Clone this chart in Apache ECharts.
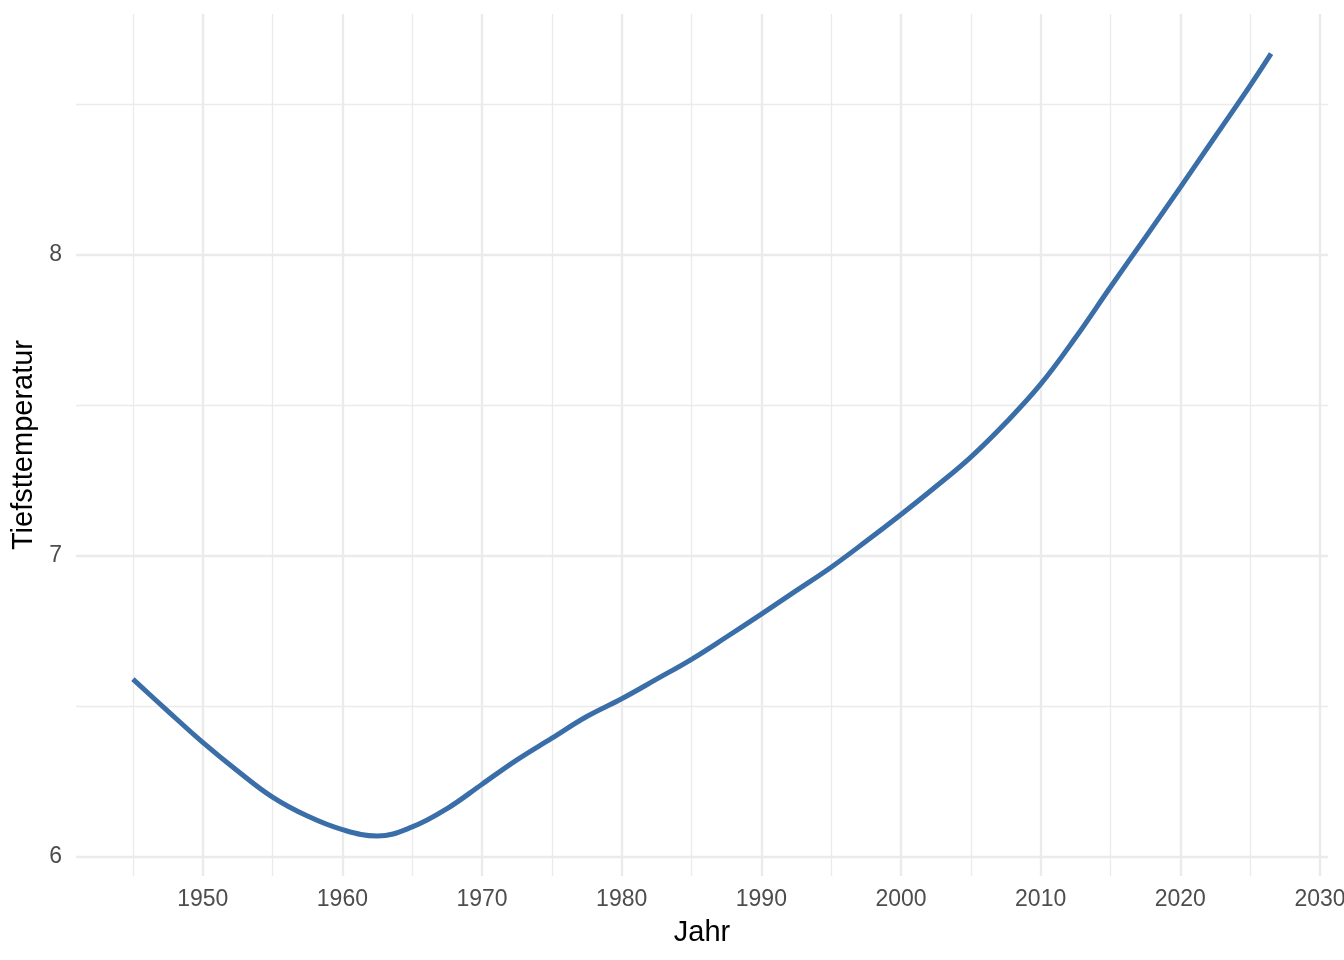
<!DOCTYPE html>
<html>
<head>
<meta charset="utf-8">
<title>Tiefsttemperatur</title>
<script src="https://cdn.jsdelivr.net/npm/echarts@6/dist/echarts.min.js"></script>
<style>
  html, body { margin: 0; padding: 0; background: #fff; }
  #chart { width: 1344px; height: 960px; }
</style>
</head>
<body>
<div id="chart"></div>
<script>
// Werte (geglättete Kurve, alle 2,5 Jahre)
var years = [1945, 1947.5, 1950, 1952.5, 1955, 1957.5, 1960, 1962.5, 1965, 1967.5, 1970, 1972.5, 1975, 1977.5,
             1980, 1982.5, 1985, 1987.5, 1990, 1992.5, 1995, 1997.5, 2000, 2002.5, 2005, 2007.5, 2010, 2012.5,
             2015, 2017.5, 2020, 2022.5, 2025, 2026.5];
var temps = [6.59, 6.484, 6.38, 6.285, 6.198, 6.135, 6.09, 6.069, 6.099, 6.16, 6.241, 6.322, 6.394, 6.466,
             6.525, 6.59, 6.656, 6.73, 6.806, 6.884, 6.962, 7.048, 7.137, 7.23, 7.328, 7.442, 7.570, 7.725,
             7.893, 8.058, 8.224, 8.393, 8.562, 8.668];

var xMajor = [1950, 1960, 1970, 1980, 1990, 2000, 2010, 2020, 2030];
var xMinor = [1945, 1955, 1965, 1975, 1985, 1995, 2005, 2015, 2025];
var yMajor = [6, 7, 8];
var yMinor = [6.5, 7.5, 8.5];

var xMin = 1940.925, xMax = 2030.575;
var yMin = 5.936, yMax = 8.80;

var FONT = '"Liberation Sans", Arial, sans-serif';
var GRID = '#ebebeb';

function gridAxis(dir, ticks, width, showLabel, extra) {
    var ax = {
        type: 'value',
        position: dir === 'x' ? 'bottom' : 'left',
        offset: 0,
        min: dir === 'x' ? xMin : yMin,
        max: dir === 'x' ? xMax : yMax,
        axisLine: { show: false },
        axisTick: { show: false, customValues: ticks },
        axisLabel: {
            show: showLabel,
            customValues: ticks,
            formatter: function (v) { return String(v); },
            color: '#4d4d4d',
            fontFamily: FONT,
            fontSize: 23,
            margin: dir === 'x' ? 12 : 14
        },
        splitLine: { show: true, lineStyle: { color: GRID, width: width } }
    };
    return Object.assign(ax, extra || {});
}

var points = years.map(function (y, i) { return [y, temps[i]]; });

var chart = echarts.init(document.getElementById('chart'), null, { renderer: 'canvas' });
chart.setOption({
    backgroundColor: '#ffffff',
    animation: false,
    grid: { left: 76, right: 16, top: 14, bottom: 84, containLabel: false, outerBoundsMode: 'none' },
    xAxis: [
        gridAxis('x', xMinor, 1.3, false),
        gridAxis('x', xMajor, 2.4, true, {
            name: 'Jahr',
            nameLocation: 'middle',
            nameGap: 42,
            nameTextStyle: { color: '#000', fontFamily: FONT, fontSize: 29, verticalAlign: 'top' }
        })
    ],
    yAxis: [
        gridAxis('y', yMinor, 1.3, false),
        gridAxis('y', yMajor, 2.4, true, {
            name: 'Tiefsttemperatur',
            nameLocation: 'middle',
            nameGap: 37,
            nameTextStyle: { color: '#000', fontFamily: FONT, fontSize: 29 }
        })
    ],
    series: [{
        type: 'line',
        xAxisIndex: 1,
        yAxisIndex: 1,
        data: points,
        smooth: 0.4,
        showSymbol: false,
        lineStyle: { color: '#3a6ea8', width: 5 }
    }]
});
</script>
</body>
</html>
